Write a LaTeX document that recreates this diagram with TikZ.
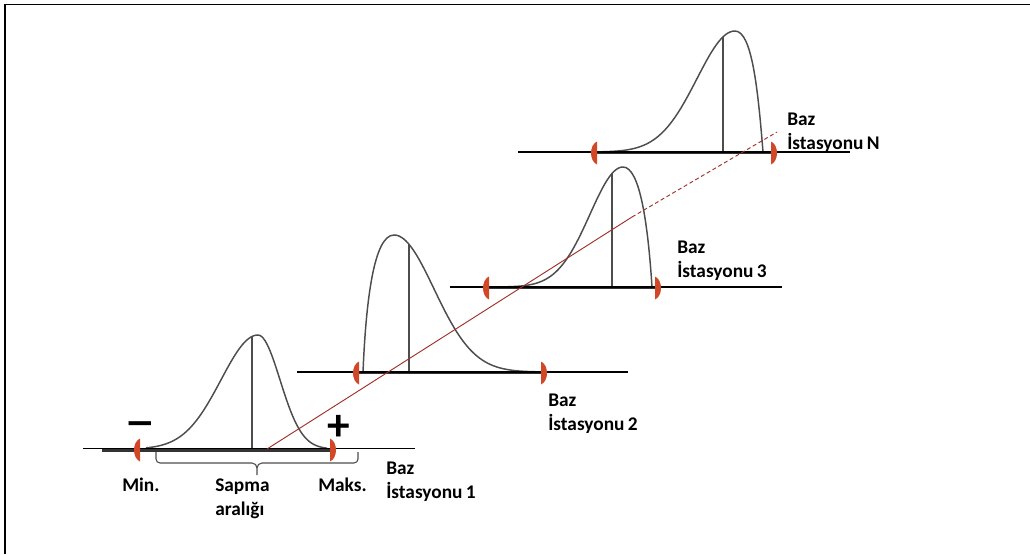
\documentclass[tikz,border=0pt]{standalone}
\usepackage{fontspec}
\setmainfont{Carlito}
\definecolor{crv}{HTML}{4D4D4D}
\definecolor{mkc}{HTML}{D24726}
\definecolor{rln}{HTML}{A0302A}
\begin{document}
\begin{tikzpicture}[x=0.75pt,y=-0.75pt,
  crvline/.style={draw=crv,line width=1.1pt},
  vline/.style={draw=crv,line width=0.8pt},
  baseln/.style={draw=black,line width=1.4pt},
  thickseg/.style={draw=black!80,line width=2.4pt},
  mk/.style={fill=mkc},
  lbl/.style={font=\bfseries\fontsize{14.5}{18}\selectfont,inner sep=0pt,align=left,anchor=base west},
  sign/.style={font=\bfseries\fontsize{34}{34}\selectfont,inner sep=0pt,anchor=base},
  redln/.style={draw=rln,line width=0.7pt},
  minmk/.pic={\fill[mk] (2,-11.5) .. controls (-6,-8) and (-6,8) .. (2,11.5) -- cycle;},
  maxmk/.pic={\fill[mk] (-2,-11.5) .. controls (6,-8) and (6,8) .. (-2,11.5) -- cycle;}
]
\useasboundingbox (0,0) rectangle (1030,554);
% frame
\draw[line width=1.2pt] (5,554) -- (5,4.5) -- (1030,4.5);

% ---------- Station 1 ----------
\draw[crvline] plot[domain=146:258,samples=60,smooth] (\x,{449-114*exp(-((\x-258)/37)^2/2)})
  -- plot[domain=258:327,samples=40,smooth] (\x,{449-114*exp(-((\x-258)/22)^2/2)});
\draw[vline] (252,449) -- (252,{449-114*exp(-((252-258)/37)^2/2)});
\draw[thickseg] (102,450) -- (335,450);
\draw[baseln] (83,448.5) -- (415,448.5);
% ---------- Station 2 ----------
\draw[crvline] (363,372) .. controls (366,300) and (374,235) .. (394,235)
  -- plot[domain=394:535,samples=60,smooth] (\x,{372-137*exp(-((\x-394)/40)^2/2)});
\draw[vline] (409,372) -- (409,244.3);
\draw[thickseg] (357,372.5) -- (543,372.5);
\draw[baseln] (297,372) -- (628,372);
% ---------- Station 3 ----------
\draw[crvline] plot[domain=490:623,samples=60,smooth] (\x,{287-120*exp(-((\x-623)/33)^2/2)})
  .. controls (640,167) and (648,225) .. (652,287);
\draw[vline] (612,287) -- (612,173.5);
\draw[thickseg] (487,287.5) -- (657,287.5);
\draw[baseln] (450,287) -- (782,287);
% ---------- Station N ----------
\draw[crvline] plot[domain=598:735,samples=60,smooth] (\x,{152-121*exp(-((\x-735)/38)^2/2)})
  .. controls (752,31) and (758,90) .. (763,152);
\draw[vline] (723,152) -- (723,37);
\draw[thickseg] (595,152.5) -- (773,152.5);
\draw[baseln] (518,152) -- (850,152);

% red trend line
\coordinate (r0) at (267,449);
\coordinate (r1) at (632,217);
\coordinate (r2) at (777,132);
\draw[redln] (r0) -- (r1);
\draw[redln,dash pattern=on 3pt off 2pt] (r1) -- (r2);

% markers
\pic at (138,450) {minmk};  \pic at (332,450) {maxmk};
\pic at (357,373) {minmk};  \pic at (543,373) {maxmk};
\pic at (487,288) {minmk};  \pic at (657,288) {maxmk};
\pic at (595,153) {minmk};  \pic at (773,153) {maxmk};

% brace
\draw[crv,line width=0.8pt] (156,452) -- (156,459) to[out=-90,in=180] (160,463) -- (252,463)
  to[out=0,in=90] (257,468) -- (257,475);
\draw[crv,line width=0.8pt] (358,452) -- (358,459) to[out=-90,in=0] (354,463) -- (262,463)
  to[out=180,in=90] (257,468);

% signs
\node[sign] (minus) at (140.5,436) {\scalebox{1.4}[1]{–}};
\node[sign] (plus) at (339,440) {+};

% labels
\node[lbl] (lmin) at (122,491) {Min.};
\node[lbl] (lsap) at (215,515) {Sapma\\aralığı};
\node[lbl] (lmak) at (318,491) {Maks.};
\node[lbl] (l1) at (386,498) {Baz\\İstasyonu\,1};
\node[lbl] (l2) at (548,430) {Baz\\İstasyonu\,2};
\node[lbl] (l3) at (677,277) {Baz\\İstasyonu\,3};
\node[lbl] (lN) at (787,149) {Baz\\İstasyonu\,N};
\end{tikzpicture}
\end{document}
